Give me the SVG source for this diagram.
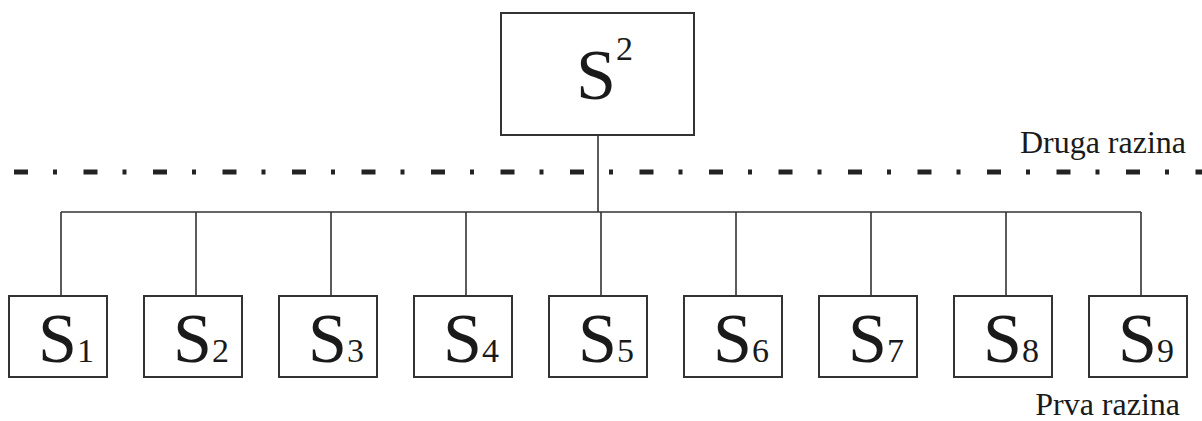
<svg xmlns="http://www.w3.org/2000/svg" width="1202" height="421" viewBox="0 0 1202 421">
<style>
.box{fill:#fff;stroke:#333;stroke-width:2}
.ln{fill:none;stroke:#333;stroke-width:1.6}
.lvl{fill:none;stroke:#222;stroke-width:5;stroke-dasharray:14 25 4 26.5}
.big{font-family:'Liberation Serif',serif;font-size:70px;fill:#1a1a1a}
.sm{font-size:34px}
.lab{font-family:'Liberation Serif',serif;font-size:32px;fill:#1a1a1a;text-anchor:end}
</style>
<rect width="1202" height="421" fill="#fff"/>
<g id="connectors">
<line class="lvl" x1="14" y1="172" x2="1202" y2="172"/>
<path class="ln" d="M598 135V212M61 212H1141M61 212V296M196 212V296M331 212V296M466 212V296M601 212V296M736 212V296M871 212V296M1006 212V296M1141 212V296"/>
</g>
<g id="top">
<rect class="box" x="501" y="13" width="193" height="122"/>
<text class="big" style="font-size:72px" x="576" y="99">S<tspan class="sm" dy="-39">2</tspan></text>
</g>
<g id="s1"><rect class="box" x="9" y="296" width="98" height="81"/><text class="big" x="38" y="362">S<tspan class="sm">1</tspan></text></g>
<g id="s2"><rect class="box" x="144" y="296" width="98" height="81"/><text class="big" x="173" y="362">S<tspan class="sm">2</tspan></text></g>
<g id="s3"><rect class="box" x="279" y="296" width="98" height="81"/><text class="big" x="308" y="362">S<tspan class="sm">3</tspan></text></g>
<g id="s4"><rect class="box" x="414" y="296" width="98" height="81"/><text class="big" x="443" y="362">S<tspan class="sm">4</tspan></text></g>
<g id="s5"><rect class="box" x="549" y="296" width="98" height="81"/><text class="big" x="578" y="362">S<tspan class="sm">5</tspan></text></g>
<g id="s6"><rect class="box" x="684" y="296" width="98" height="81"/><text class="big" x="713" y="362">S<tspan class="sm">6</tspan></text></g>
<g id="s7"><rect class="box" x="819" y="296" width="98" height="81"/><text class="big" x="848" y="362">S<tspan class="sm">7</tspan></text></g>
<g id="s8"><rect class="box" x="954" y="296" width="98" height="81"/><text class="big" x="983" y="362">S<tspan class="sm">8</tspan></text></g>
<g id="s9"><rect class="box" x="1089" y="296" width="98" height="81"/><text class="big" x="1118" y="362">S<tspan class="sm">9</tspan></text></g>
<text class="lab" x="1186" y="153">Druga razina</text>
<text class="lab" x="1180" y="415">Prva razina</text>
</svg>
